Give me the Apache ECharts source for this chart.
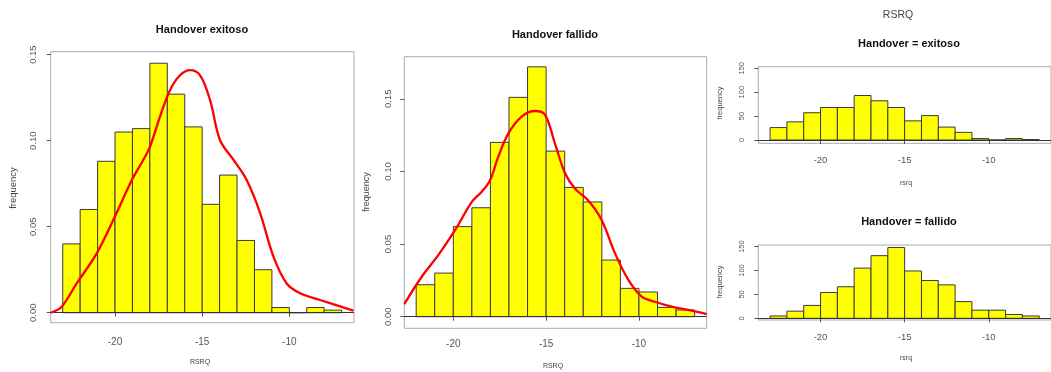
<!DOCTYPE html>
<html>
<head>
<meta charset="utf-8">
<script src="https://cdn.jsdelivr.net/npm/echarts@6/dist/echarts.min.js"></script>
<style>
html, body { margin: 0; padding: 0; background: #fff; }
#chart { width: 1051px; height: 372px; }
</style>
</head>
<body>
<div id="chart"></div>
<script>
// histogram bins: left edge of each bin, width 1
var exitosoBins = [-23, -22, -21, -20, -19, -18, -17, -16, -15, -14, -13, -12, -11, -10, -9, -8];
var exitosoFreq = [0.040, 0.060, 0.088, 0.105, 0.107, 0.145, 0.127, 0.108, 0.063, 0.080, 0.042, 0.025, 0.003, 0, 0.003, 0.0015];
// density curve (red)
var exitosoDensX = [-23.69, -23.06, -22.2, -21.05, -20.0, -19.04, -18.38, -17.99, -17.42, -16.84, -16.27, -15.7, -15.12, -14.55, -13.98, -13.2, -12.44, -11.67, -10.91, -10.15, -9.38, -8.24, -6.33];
var exitosoDensY = [0.0, 0.0035, 0.017, 0.0345, 0.056, 0.077, 0.0888, 0.0965, 0.114, 0.1295, 0.138, 0.141, 0.138, 0.1237, 0.1004, 0.0888, 0.077, 0.0578, 0.0326, 0.017, 0.0113, 0.0074, 0.0012];

var fallidoBins = [-22, -21, -20, -19, -18, -17, -16, -15, -14, -13, -12, -11, -10, -9, -8];
var fallidoFreq = [0.022, 0.030, 0.062, 0.075, 0.120, 0.151, 0.172, 0.114, 0.089, 0.079, 0.039, 0.0195, 0.017, 0.0064, 0.0046];
var fallidoDensX = [-22.64, -21.7, -20.8, -19.9, -19.0, -18.47, -18.02, -17.58, -17.04, -16.32, -15.6, -15.06, -14.52, -13.98, -13.44, -12.73, -12.01, -11.29, -10.57, -9.85, -9.14, -8.24, -7.34, -6.35];
var fallidoDensY = [0.0087, 0.0275, 0.0425, 0.0597, 0.079, 0.086, 0.094, 0.110, 0.126, 0.1377, 0.1416, 0.139, 0.119, 0.0987, 0.088, 0.080, 0.0666, 0.0436, 0.0253, 0.0138, 0.0103, 0.0069, 0.0046, 0.0018];

// lattice panels (counts)
var countBins = [-23, -22, -21, -20, -19, -18, -17, -16, -15, -14, -13, -12, -11, -10, -9, -8];
var exitosoCount = [26, 38, 57, 68, 68, 93, 82, 68, 40, 51, 27, 16, 3, 0, 3, 1];
var fallidoCount = [5, 15, 27, 54, 66, 105, 131, 148, 99, 79, 70, 35, 17, 17, 8, 5];

var densTicks = [0, 0.05, 0.10, 0.15];
var countTicks = [0, 50, 100, 150];
var rsrqTicks = [-20, -15, -10];

var FONT = '"Liberation Sans", Arial, sans-serif';

function histSeries(idx, bins, vals) {
  return {
    type: 'custom',
    xAxisIndex: idx,
    yAxisIndex: idx,
    data: bins.map(function (b, i) { return [b, b + 1, vals[i]]; }),
    encode: { x: [0, 1], y: 2 },
    renderItem: function (params, api) {
      var p0 = api.coord([api.value(0), 0]);
      var p1 = api.coord([api.value(1), api.value(2)]);
      return {
        type: 'rect',
        shape: { x: p0[0], y: p1[1], width: p1[0] - p0[0], height: p0[1] - p1[1] },
        style: { fill: '#ffff00', stroke: '#3a3a3a', lineWidth: 1 }
      };
    },
    markLine: {
      silent: true,
      symbol: 'none',
      label: { show: false },
      lineStyle: { color: '#333', width: 1, type: 'solid' },
      data: [{ yAxis: 0 }]
    }
  };
}

function densSeries(idx, xs, ys) {
  return {
    type: 'line',
    xAxisIndex: idx,
    yAxisIndex: idx,
    smooth: 0.35,
    showSymbol: false,
    clip: true,
    lineStyle: { color: '#ff0000', width: 2.3 },
    data: xs.map(function (x, i) { return [x, ys[i]]; }),
    z: 5
  };
}

function xAx(idx, min, max, margin, size) {
  return {
    gridIndex: idx, type: 'value', min: min, max: max,
    splitLine: { show: false },
    axisLine: { show: false },
    axisTick: { show: true, customValues: rsrqTicks, length: 4, lineStyle: { color: '#555' } },
    axisLabel: { customValues: rsrqTicks, margin: margin, fontSize: size, color: '#555', fontFamily: FONT }
  };
}

function yAx(idx, min, max, ticks, margin, size, dec) {
  return {
    gridIndex: idx, type: 'value', min: min, max: max,
    splitLine: { show: false },
    axisLine: { show: false },
    axisTick: { show: true, customValues: ticks, length: 4, lineStyle: { color: '#555' } },
    axisLabel: {
      customValues: ticks, rotate: 90, margin: margin, fontSize: size, color: '#555', fontFamily: FONT,
      formatter: function (v) { return v.toFixed(dec); }
    }
  };
}

function txt(x, y, s, size, bold, rot) {
  return {
    type: 'text', x: x, y: y, rotation: rot ? Math.PI / 2 : 0,
    style: {
      text: s, fontSize: size, fontWeight: bold ? 'bold' : 'normal', fontFamily: FONT,
      fill: bold ? '#111' : '#444', align: 'center', verticalAlign: 'middle'
    }
  };
}

var chart = echarts.init(document.getElementById('chart'));
chart.setOption({
  animation: false,
  grid: [
    { left: 50.7, top: 51.7, width: 303.3, height: 271, show: true, borderColor: '#aaa', borderWidth: 1 },
    { left: 404.3, top: 56.7, width: 302.4, height: 271.6, show: true, borderColor: '#aaa', borderWidth: 1 },
    { left: 758.3, top: 66.7, width: 302.8, height: 76.6, show: true, borderColor: '#aaa', borderWidth: 1 },
    { left: 758.3, top: 245, width: 302.8, height: 75, show: true, borderColor: '#aaa', borderWidth: 1 }
  ],
  xAxis: [
    xAx(0, -23.69, -6.29, 15, 10),
    xAx(1, -22.64, -6.35, 11, 10),
    xAx(2, -23.7, -6.3, 12, 9.5),
    xAx(3, -23.7, -6.3, 12, 9.5)
  ],
  yAxis: [
    yAx(0, -0.0058, 0.1517, densTicks, 12, 9.5, 2),
    yAx(1, -0.008, 0.179, densTicks, 11, 9.5, 2),
    yAx(2, -6.9, 153.3, countTicks, 12, 7.5, 0),
    yAx(3, -3.5, 153.3, countTicks, 12, 7.5, 0)
  ],
  series: [
    histSeries(0, exitosoBins, exitosoFreq),
    densSeries(0, exitosoDensX, exitosoDensY),
    histSeries(1, fallidoBins, fallidoFreq),
    densSeries(1, fallidoDensX, fallidoDensY),
    histSeries(2, countBins, exitosoCount),
    histSeries(3, countBins, fallidoCount)
  ],
  graphic: [
    txt(202, 30, 'Handover exitoso', 11, true),
    txt(555, 35, 'Handover fallido', 11, true),
    txt(898, 15, 'RSRQ', 10.5, false),
    txt(909, 44, 'Handover = exitoso', 11, true),
    txt(909, 222, 'Handover = fallido', 11, true),
    txt(200, 362, 'RSRQ', 7, false),
    txt(553, 366, 'RSRQ', 7, false),
    txt(906, 183, 'rsrq', 7, false),
    txt(906, 358, 'rsrq', 7, false),
    txt(13, 188, 'frequency', 9.5, false, true),
    txt(367, 192, 'frequency', 9, false, true),
    txt(720, 103, 'frequency', 7.5, false, true),
    txt(720, 282, 'frequency', 7.5, false, true)
  ]
});
</script>
</body>
</html>
